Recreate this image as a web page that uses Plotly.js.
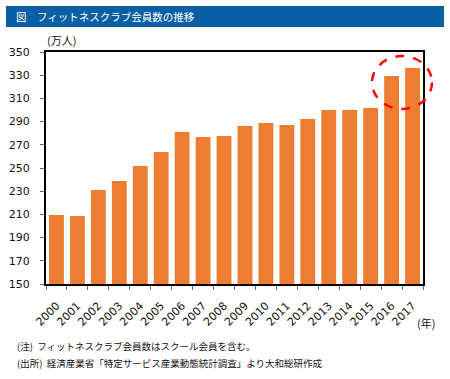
<!DOCTYPE html>
<html>
<head>
<meta charset="utf-8">
<script src="https://cdn.plot.ly/plotly-3.0.1.min.js"></script>
<style>
html,body{margin:0;padding:0;background:#fff;}
#chart{width:450px;height:379px;}
</style>
</head>
<body>
<div id="chart"></div>
<script>
const years = ["2000","2001","2002","2003","2004","2005","2006","2007","2008","2009","2010","2011","2012","2013","2014","2015","2016","2017"];
const members = [209.5, 208.6, 231, 238.8, 251.7, 263.8, 281, 276.7, 277.6, 286.2, 288.8, 287, 292.2, 300, 300, 301.7, 329.3, 336.2];
const yTicks = [150,170,190,210,230,250,270,290,310,330,350];

const titleText = "図　フィットネスクラブ会員数の推移";
const yUnit = "(万人)";
const xUnit = "(年)";
const note1 = "(注)  フィットネスクラブ会員数はスクール会員を含む。";
const note2 = "(出所)  経済産業省「特定サービス産業動態統計調査」より大和総研作成";

const jp = "Noto Sans CJK JP, sans-serif";
const num = "DejaVu Sans, sans-serif";

const trace = {
  type: "bar",
  x: years,
  y: members,
  marker: {color: "#ed7d31"},
  hoverinfo: "x+y"
};

const layout = {
  width: 450, height: 379,
  margin: {l: 46, r: 27, t: 52, b: 95},
  paper_bgcolor: "#fff",
  plot_bgcolor: "#fff",
  showlegend: false,
  bargap: 0.29,
  xaxis: {
    type: "category",
    tickangle: -45,
    tickfont: {family: num, size: 11, color: "#111"},
    ticks: "outside",
    tickson: "boundaries",
    ticklen: 4,
    tickcolor: "#666",
    ticklabelstandoff: 9,
    showline: true, linecolor: "#000", linewidth: 2, mirror: true,
    showgrid: false,
    fixedrange: true
  },
  yaxis: {
    range: [150, 350],
    tickvals: yTicks,
    ticktext: yTicks.map(String),
    tickfont: {family: num, size: 11, color: "#111"},
    ticks: "outside",
    ticklen: 4,
    tickcolor: "#666",
    ticklabelstandoff: 8,
    showline: true, linecolor: "#000", linewidth: 2, mirror: true,
    showgrid: false, zeroline: false,
    fixedrange: true
  },
  shapes: [
    {type: "rect", xref: "paper", yref: "paper", layer: "below",
     x0: (6-46)/377, x1: (444-46)/377, y0: (284-27)/232, y1: (284-6)/232,
     fillcolor: "#0b5fa5", line: {width: 0}},
    {type: "circle", xref: "paper", yref: "paper",
     x0: (372-46)/377, x1: (432-46)/377,
     y0: (284-109)/232, y1: (284-56)/232,
     line: {color: "#ff0000", width: 2.5, dash: "dash"}}
  ],
  annotations: [
    {text: titleText, xref: "paper", yref: "paper", x: (14-46)/377, y: (284-16.5)/232,
     xanchor: "left", yanchor: "middle", showarrow: false,
     font: {family: jp, size: 10.5, color: "#fff"}},
    {text: yUnit, xref: "paper", yref: "paper", x: (45-46)/377, y: (284-40)/232,
     xanchor: "left", yanchor: "middle", showarrow: false,
     font: {family: jp, size: 11, color: "#111"}},
    {text: xUnit, xref: "paper", yref: "paper", x: (437-46)/377, y: (284-323)/232,
     xanchor: "right", yanchor: "middle", showarrow: false,
     font: {family: jp, size: 11, color: "#111"}},
    {text: note1, xref: "paper", yref: "paper", x: (15-46)/377, y: (284-346)/232,
     xanchor: "left", yanchor: "middle", showarrow: false,
     font: {family: jp, size: 9.5, color: "#111"}},
    {text: note2, xref: "paper", yref: "paper", x: (15-46)/377, y: (284-363)/232,
     xanchor: "left", yanchor: "middle", showarrow: false,
     font: {family: jp, size: 9.5, color: "#111"}}
  ]
};

Plotly.newPlot("chart", [trace], layout, {displayModeBar: false, staticPlot: true});
</script>
</body>
</html>
